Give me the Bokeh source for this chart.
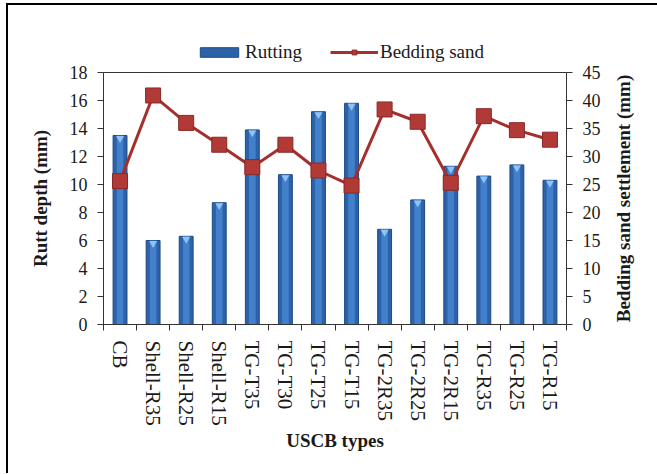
import math
from bokeh.plotting import figure
from bokeh.layouts import column, row
from bokeh.models import (Range1d, LinearAxis, FixedTicker, Legend, LegendItem, Label,
                          ColumnDataSource)
from bokeh.transform import dodge
from bokeh.embed import file_html
from bokeh.resources import INLINE

categories = ["CB", "Shell-R35", "Shell-R25", "Shell-R15", "TG-T35", "TG-T30", "TG-T25",
              "TG-T15", "TG-2R35", "TG-2R25", "TG-2R15", "TG-R35", "TG-R25", "TG-R15"]
rutting = [13.5, 6.0, 6.3, 8.7, 13.9, 10.7, 15.2, 15.8, 6.8, 8.9, 11.3, 10.6, 11.4, 10.3]
settlement = [25.6, 40.9, 36.0, 32.1, 28.1, 32.1, 27.5, 24.8, 38.4, 36.2, 25.3, 37.2, 34.7, 33.0]
left_ticks = list(range(0, 19, 2))
right_ticks = list(range(0, 46, 5))

n = len(categories)
xc = [i + 0.5 for i in range(n)]
bounds = list(range(n + 1))

FONT = "Liberation Serif"
BAR = dict(fill_color="#2C62A8", line_color="#1E4A85", line_width=1)
LINE = dict(line_color="#A3302D", line_width=3)
MARK = dict(marker="square", fill_color="#B23A36", line_color="#8A2826", line_width=1)


def bare(fig):
    fig.axis.visible = False
    fig.grid.visible = False
    fig.outline_line_color = None
    fig.background_fill_color = "white"
    fig.border_fill_color = "white"


MH = 408  # height of the main row

# ---------- main chart ----------
p = figure(width=596, height=MH, x_range=Range1d(0, n), y_range=Range1d(0, 18),
           output_backend="svg", toolbar_location=None,
           min_border_left=95, min_border_right=38, min_border_top=7, min_border_bottom=149)
p.grid.visible = False
p.outline_line_color = "#333333"
p.outline_line_width = 1
p.background_fill_color = "white"
p.border_fill_color = "white"
p.extra_y_ranges = {"set": Range1d(0, 45)}

src = ColumnDataSource(dict(x=xc, rut=rutting, sett=settlement))

p.vbar(x="x", top="rut", source=src, width=0.42, **BAR)
p.vbar(x="x", top="rut", source=src, width=0.2, fill_color="#4A88D4", line_color=None, fill_alpha=0.8)
p.scatter(x="x", y=dodge("rut", -0.2, range=p.y_range), source=src, marker="inverted_triangle",
          size=8, fill_color="#8EC3F5", line_color=None)
p.line(x="x", y="sett", source=src, y_range_name="set", **LINE)
p.scatter(x="x", y="sett", source=src, y_range_name="set", size=15, **MARK)

ax = p.xaxis[0]
ax.ticker = FixedTicker(ticks=xc, minor_ticks=bounds)
ax.major_label_overrides = {float(x): c for x, c in zip(xc, categories)}
ax.major_label_orientation = "vertical"
ax.major_tick_out = 0
ax.major_tick_in = 0
ax.minor_tick_out = 6
ax.minor_tick_in = 0
ax.axis_label = "USCB types"

ay = p.yaxis[0]
ay.ticker = FixedTicker(ticks=left_ticks)
ay.axis_label = "Rutt depth (mm)"

ar = LinearAxis(y_range_name="set", ticker=FixedTicker(ticks=right_ticks))
p.add_layout(ar, "right")

for a in (ax, ay, ar):
    a.axis_line_color = "#333333"
    a.major_tick_line_color = "#333333"
    a.minor_tick_line_color = "#333333"
    a.major_label_text_font = FONT
    a.major_label_text_color = "#1a1a1a"
    a.axis_label_text_font = FONT
    a.axis_label_text_font_style = "bold"
    a.axis_label_text_font_size = "19px"
    a.axis_label_text_color = "#1a1a1a"

for a in (ay, ar):
    a.major_label_text_font_size = "18px"
    a.major_tick_out = 6
    a.major_tick_in = 0
    a.minor_tick_out = 0
    a.minor_tick_in = 0
    a.major_label_standoff = 10
ax.major_label_text_font_size = "21px"
ax.major_label_standoff = 10
ax.axis_label_standoff = 1
ay.axis_label_standoff = 16

# ---------- right-hand axis title (its frame is aligned with the chart frame) ----------
TW = 53
t = figure(width=TW, height=MH, x_range=Range1d(0, TW), y_range=Range1d(0, MH),
           output_backend="svg", toolbar_location=None,
           min_border_left=0, min_border_right=0, min_border_top=0, min_border_bottom=0)
bare(t)
t.add_layout(Label(x=19, y=MH / 2, text="Bedding sand settlement (mm)", angle=math.pi / 2,
                   text_align="center", text_baseline="middle", text_font=FONT,
                   text_font_style="bold", text_font_size="19px", text_color="#1a1a1a"))

# ---------- legend strip (proxy renderers lie outside its visible range) ----------
LW, LH = 649, 60
lf = figure(width=LW, height=LH, x_range=Range1d(-10, -9), y_range=Range1d(-10, -9),
            output_backend="svg", toolbar_location=None,
            min_border_left=0, min_border_right=0, min_border_top=0, min_border_bottom=0)
bare(lf)
r_bar = lf.vbar(x=xc, top=rutting, width=0.42, **BAR)
r_line = lf.line(x=xc, y=settlement, **LINE)
r_mark = lf.scatter(x=xc, y=settlement, size=15, **MARK)
legend = Legend(items=[LegendItem(label="Rutting", renderers=[r_bar]),
                       LegendItem(label="Bedding sand", renderers=[r_line, r_mark])],
                orientation="horizontal", location=(187, 2),
                border_line_alpha=0, background_fill_alpha=0,
                glyph_width=48, glyph_height=12, label_standoff=2, spacing=28,
                padding=0, margin=0,
                label_text_font=FONT, label_text_font_size="19px", label_text_color="#1a1a1a")
lf.add_layout(legend, "center")

layout = column(lf, row(p, t, spacing=0), spacing=0,
                styles={"margin-left": "6px", "margin-top": "3px",
                        "border-left": "2px solid black", "border-top": "2px solid black"})

open("out.html", "w").write(file_html(layout, INLINE))
